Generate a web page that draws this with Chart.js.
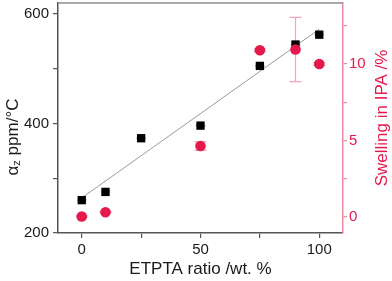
<!DOCTYPE html>
<html>
<head>
<meta charset="utf-8">
<script src="https://cdn.jsdelivr.net/npm/chart.js@4/dist/chart.umd.min.js"></script>
<style>
html,body{margin:0;padding:0;background:#fff;overflow:hidden;}
#wrap{width:392px;height:281px;position:relative;overflow:hidden;}
#c{position:absolute;left:0;top:-3px;}
</style>
</head>
<body>
<div id="wrap"><canvas id="c" width="392" height="284"></canvas></div>
<script>
// ---- data ----
const ratioAlpha = [0, 10, 25, 50, 75, 90, 100];
const alphaZ = [260, 275, 373, 396, 505, 544, 562];
const alphaXErr = [2, 2, 2, 2, 2, 2, 2];

const ratioSwell = [0, 10, 50, 75, 90, 100];
const swelling = [0.02, 0.3, 4.63, 10.9, 10.95, 10.0];
const swellXErr = [2, 2, 2, 2, 2, 2];
const swellYErr = [0.05, 0.05, 0.28, 0.1, 2.1, 0.1];

const fitX = [0, 100];
const fitY = [264, 572];

const xTicks = [0, 25, 50, 75, 100];
const xTickLabels = ['0', '', '50', '', '100'];
const yTicks = [200, 300, 400, 500, 600];
const yTickLabels = ['200', '', '400', '', '600'];
const y1Ticks = [0, 2.5, 5, 7.5, 10, 12.5];
const y1TickLabels = ['0', '', '5', '', '10', ''];

const xTitle = 'ETPTA ratio /wt. %';
const yTitleMain = 'α';
const yTitleSub = 'z';
const yTitleRest = ' ppm/°C';
const y1Title = 'Swelling in IPA /%';

const RED = '#E6194C';
const PINK = '#F08AA2';
const PINK_ERR = '#F4A3B7';
const FONT = "'Liberation Sans', Arial, sans-serif";

const pts = (xs, ys) => xs.map((x, i) => ({x: x, y: ys[i]}));

const errorBars = {
  id: 'errorBars',
  beforeDatasetsDraw(chart) {
    const ctx = chart.ctx;
    const xs = chart.scales.x, y = chart.scales.y, y1 = chart.scales.y1;
    ctx.save();
    ctx.lineWidth = 1.2;
    ctx.strokeStyle = '#8a8a8a';
    ratioAlpha.forEach((xv, i) => {
      const py = y.getPixelForValue(alphaZ[i]);
      ctx.beginPath();
      ctx.moveTo(xs.getPixelForValue(xv - alphaXErr[i]), py);
      ctx.lineTo(xs.getPixelForValue(xv + alphaXErr[i]), py);
      ctx.stroke();
    });
    ctx.strokeStyle = PINK_ERR;
    ratioSwell.forEach((xv, i) => {
      const px = xs.getPixelForValue(xv);
      const py = y1.getPixelForValue(swelling[i]);
      ctx.beginPath();
      ctx.moveTo(xs.getPixelForValue(xv - swellXErr[i]), py);
      ctx.lineTo(xs.getPixelForValue(xv + swellXErr[i]), py);
      ctx.stroke();
      const top = y1.getPixelForValue(swelling[i] + swellYErr[i]);
      const bot = y1.getPixelForValue(swelling[i] - swellYErr[i]);
      ctx.beginPath();
      ctx.moveTo(px, top); ctx.lineTo(px, bot);
      ctx.moveTo(px - 6, top); ctx.lineTo(px + 6, top);
      ctx.moveTo(px - 6, bot); ctx.lineTo(px + 6, bot);
      ctx.stroke();
    });
    ctx.restore();
  }
};

const frameTitles = {
  id: 'frameTitles',
  afterDraw(chart) {
    const ctx = chart.ctx;
    const a = chart.chartArea;
    ctx.save();
    ctx.strokeStyle = '#8c8c8c';
    ctx.lineWidth = 1.5;
    ctx.beginPath();
    ctx.moveTo(a.left, a.top);
    ctx.lineTo(a.right, a.top);
    ctx.stroke();

    ctx.translate(13, 140);
    ctx.rotate(-Math.PI / 2);
    ctx.fillStyle = '#1a1a1a';
    ctx.textBaseline = 'middle';
    ctx.textAlign = 'left';
    const mainF = '17px ' + FONT, subF = '11px ' + FONT;
    ctx.font = mainF; const w1 = ctx.measureText(yTitleMain).width;
    const w3 = ctx.measureText(yTitleRest).width;
    ctx.font = subF; const w2 = ctx.measureText(yTitleSub).width;
    let sx = -(w1 + w2 + w3) / 2;
    ctx.font = mainF; ctx.fillText(yTitleMain, sx, 0); sx += w1;
    ctx.font = subF; ctx.fillText(yTitleSub, sx, 4); sx += w2;
    ctx.font = mainF; ctx.fillText(yTitleRest, sx, 0);
    ctx.restore();

    ctx.save();
    ctx.translate(382, (a.top + a.bottom) / 2);
    ctx.rotate(-Math.PI / 2);
    ctx.fillStyle = RED;
    ctx.font = '17px ' + FONT;
    ctx.textAlign = 'center';
    ctx.textBaseline = 'middle';
    ctx.fillText(y1Title, 0, 0);
    ctx.restore();
  }
};

const noPad = s => { s.paddingTop = 0; s.paddingBottom = 0; s.paddingLeft = 0; s.paddingRight = 0; };

new Chart(document.getElementById('c'), {
  type: 'scatter',
  data: {
    datasets: [
      {
        label: 'Swelling',
        data: pts(ratioSwell, swelling),
        yAxisID: 'y1',
        pointStyle: 'circle',
        pointRadius: 5.3,
        backgroundColor: RED,
        borderColor: RED,
        borderWidth: 0,
        order: 0
      },
      {
        label: 'alpha_z',
        data: pts(ratioAlpha, alphaZ),
        yAxisID: 'y',
        pointStyle: 'rect',
        pointRadius: 5.9,
        backgroundColor: '#000',
        borderColor: '#000',
        borderWidth: 0,
        order: 1
      },
      {
        label: 'fit',
        type: 'line',
        data: pts(fitX, fitY),
        yAxisID: 'y',
        borderColor: '#9a9a9a',
        borderWidth: 1,
        pointRadius: 0,
        fill: false,
        order: 2
      }
    ]
  },
  options: {
    responsive: false,
    animation: false,
    devicePixelRatio: 1,
    layout: {padding: {top: 2, left: 0, right: 0, bottom: 0}},
    plugins: {legend: {display: false}, tooltip: {enabled: false}},
    scales: {
      x: {
        type: 'linear', min: -10, max: 110,
        afterBuildTicks: s => { s.ticks = xTicks.map(v => ({value: v})); },
        afterFit: s => { s.height = 48; noPad(s); },
        ticks: {
          callback: (v, i) => xTickLabels[i],
          color: '#1a1a1a', font: {family: FONT, size: 15}, padding: 3, maxRotation: 0, autoSkip: false
        },
        grid: {display: true, drawOnChartArea: false, drawTicks: true, tickLength: 5, color: '#555', lineWidth: 1.2},
        border: {display: true, color: '#555', width: 1.5},
        title: {display: true, text: xTitle, color: '#1a1a1a', font: {family: FONT, size: 17}, padding: {top: 0, bottom: 1}}
      },
      y: {
        type: 'linear', position: 'left', min: 200, max: 620,
        afterBuildTicks: s => { s.ticks = yTicks.map(v => ({value: v})); },
        afterFit: s => { s.width = 58; noPad(s); },
        ticks: {
          callback: (v, i) => yTickLabels[i],
          color: '#1a1a1a', font: {family: FONT, size: 15}, padding: 4, autoSkip: false
        },
        grid: {display: true, drawOnChartArea: false, drawTicks: true, tickLength: 5, color: '#555', lineWidth: 1.2},
        border: {display: true, color: '#555', width: 1.5}
      },
      y1: {
        type: 'linear', position: 'right', min: -1.06, max: 14,
        afterBuildTicks: s => { s.ticks = y1Ticks.map(v => ({value: v})); },
        afterFit: s => { s.width = 49; noPad(s); },
        ticks: {
          callback: (v, i) => y1TickLabels[i],
          color: RED, font: {family: FONT, size: 15}, padding: 2, autoSkip: false
        },
        grid: {display: true, drawOnChartArea: false, drawTicks: true, tickLength: 4, color: PINK, lineWidth: 1.2},
        border: {display: true, color: PINK, width: 1.5}
      }
    }
  },
  plugins: [errorBars, frameTitles]
});
</script>
</body>
</html>
